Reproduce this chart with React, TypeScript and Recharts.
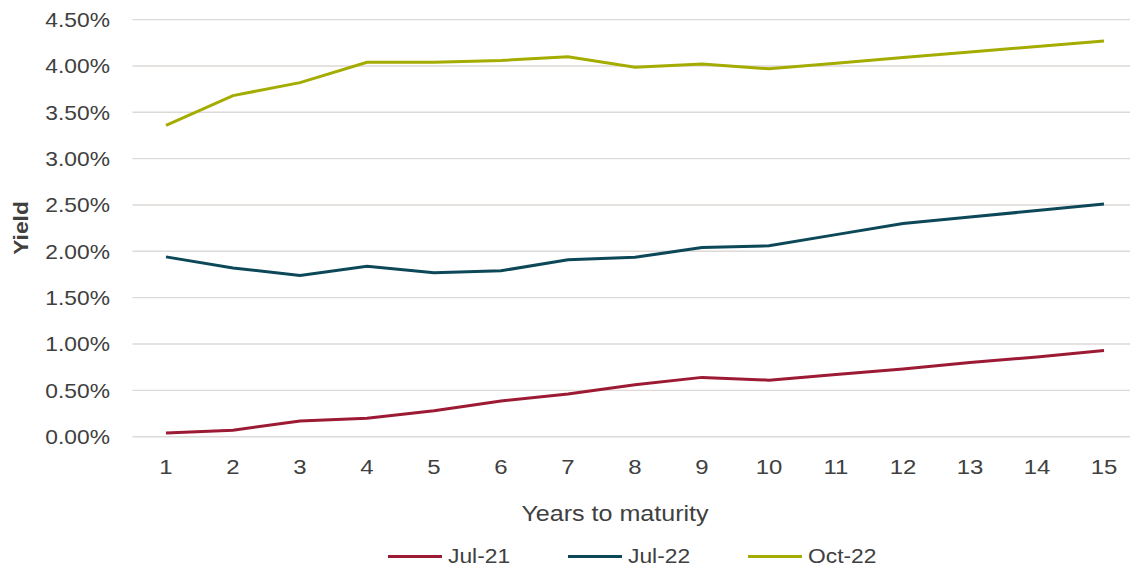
import { LineChart, Line, XAxis, YAxis, CartesianGrid, Legend } from 'recharts';

// Years to maturity and yields (%)
const years = [1, 2, 3, 4, 5, 6, 7, 8, 9, 10, 11, 12, 13, 14, 15];
const jul21 = [0.04, 0.07, 0.17, 0.2, 0.28, 0.385, 0.46, 0.56, 0.64, 0.61, 0.67, 0.73, 0.8, 0.86, 0.93];
const jul22 = [1.94, 1.82, 1.74, 1.84, 1.77, 1.79, 1.91, 1.935, 2.04, 2.06, 2.18, 2.3, 2.37, 2.44, 2.51];
const oct22 = [3.36, 3.68, 3.82, 4.04, 4.04, 4.06, 4.1, 3.985, 4.02, 3.97, 4.03, 4.09, 4.15, 4.21, 4.27];
const yTicks = [0, 0.5, 1, 1.5, 2, 2.5, 3, 3.5, 4, 4.5];

const seriesList = [
  { key: 'jul21', name: 'Jul-21', color: '#9c1a33' },
  { key: 'jul22', name: 'Jul-22', color: '#0c4858' },
  { key: 'oct22', name: 'Oct-22', color: '#a4ac00' },
];

const data = years.map((year, i) => ({
  year,
  jul21: jul21[i],
  jul22: jul22[i],
  oct22: oct22[i],
}));

const FONT = '"Liberation Sans", Arial, sans-serif';
const TEXT = '#404040';
const STRETCH = 1.14;

function YTick({ x, y, payload }: any) {
  return (
    <text
      transform={`translate(${x},${y}) scale(${STRETCH},1)`}
      textAnchor="end"
      dy="0.36em"
      fontFamily={FONT}
      fontSize={20}
      fill={TEXT}
    >
      {`${Number(payload.value).toFixed(2)}%`}
    </text>
  );
}

function XTick({ x, y, payload }: any) {
  return (
    <text
      transform={`translate(${x},${y}) scale(${STRETCH},1)`}
      textAnchor="middle"
      dy="0.71em"
      fontFamily={FONT}
      fontSize={21}
      fill={TEXT}
    >
      {payload.value}
    </text>
  );
}

function LegendContent() {
  return (
    <div style={{ display: 'flex', fontFamily: FONT, fontSize: 20, color: TEXT, lineHeight: '22px' }}>
      {seriesList.map((s) => (
        <div key={s.key} style={{ display: 'flex', alignItems: 'center', width: 180 }}>
          <span style={{ display: 'inline-block', width: 54, height: 3, background: s.color, marginRight: 6 }} />
          <span style={{ display: 'inline-block', transform: `scaleX(${STRETCH})`, transformOrigin: 'left center' }}>
            {s.name}
          </span>
        </div>
      ))}
    </div>
  );
}

export default function App() {
  return (
    <div style={{ position: 'absolute', left: 0, top: 0, width: 1130, height: 572, overflow: 'hidden', background: '#fff' }}>
      <LineChart
        width={1140}
        height={572}
        data={data}
        margin={{ top: 19.6, right: 2.5, bottom: 105.3, left: 0 }}
      >
        <CartesianGrid vertical={false} stroke="#dcd9d6" strokeWidth={1.4} />
        <XAxis
          type="number"
          dataKey="year"
          domain={[0.5, 15.5]}
          ticks={years}
          interval={0}
          tickLine={false}
          axisLine={false}
          tickSize={0}
          tickMargin={22}
          height={30}
          tick={<XTick />}
          label={{
            content: () => (
              <text
                transform={`translate(615,513) scale(${STRETCH},1)`}
                textAnchor="middle"
                dy="0.36em"
                fontFamily={FONT}
                fontSize={22}
                fill={TEXT}
              >
                Years to maturity
              </text>
            ),
          }}
        />
        <YAxis
          domain={[0, 4.5]}
          ticks={yTicks}
          interval={0}
          width={132.5}
          tickLine={false}
          axisLine={false}
          tickSize={0}
          tickMargin={22.5}
          tick={<YTick />}
          label={{
            content: () => (
              <text
                transform={`translate(21,228) rotate(-90) scale(${STRETCH},1)`}
                textAnchor="middle"
                dy="0.36em"
                fontFamily={FONT}
                fontSize={20}
                fontWeight="bold"
                fill={TEXT}
              >
                Yield
              </text>
            ),
          }}
        />
        <Legend
          layout="horizontal"
          verticalAlign="middle"
          align="center"
          wrapperStyle={{ top: 545, left: 388, width: 560 }}
          content={<LegendContent />}
        />
        {seriesList.map((s) => (
          <Line
            key={s.key}
            type="linear"
            dataKey={s.key}
            name={s.name}
            stroke={s.color}
            strokeWidth={3}
            dot={false}
            activeDot={false}
            isAnimationActive={false}
          />
        ))}
      </LineChart>
    </div>
  );
}
